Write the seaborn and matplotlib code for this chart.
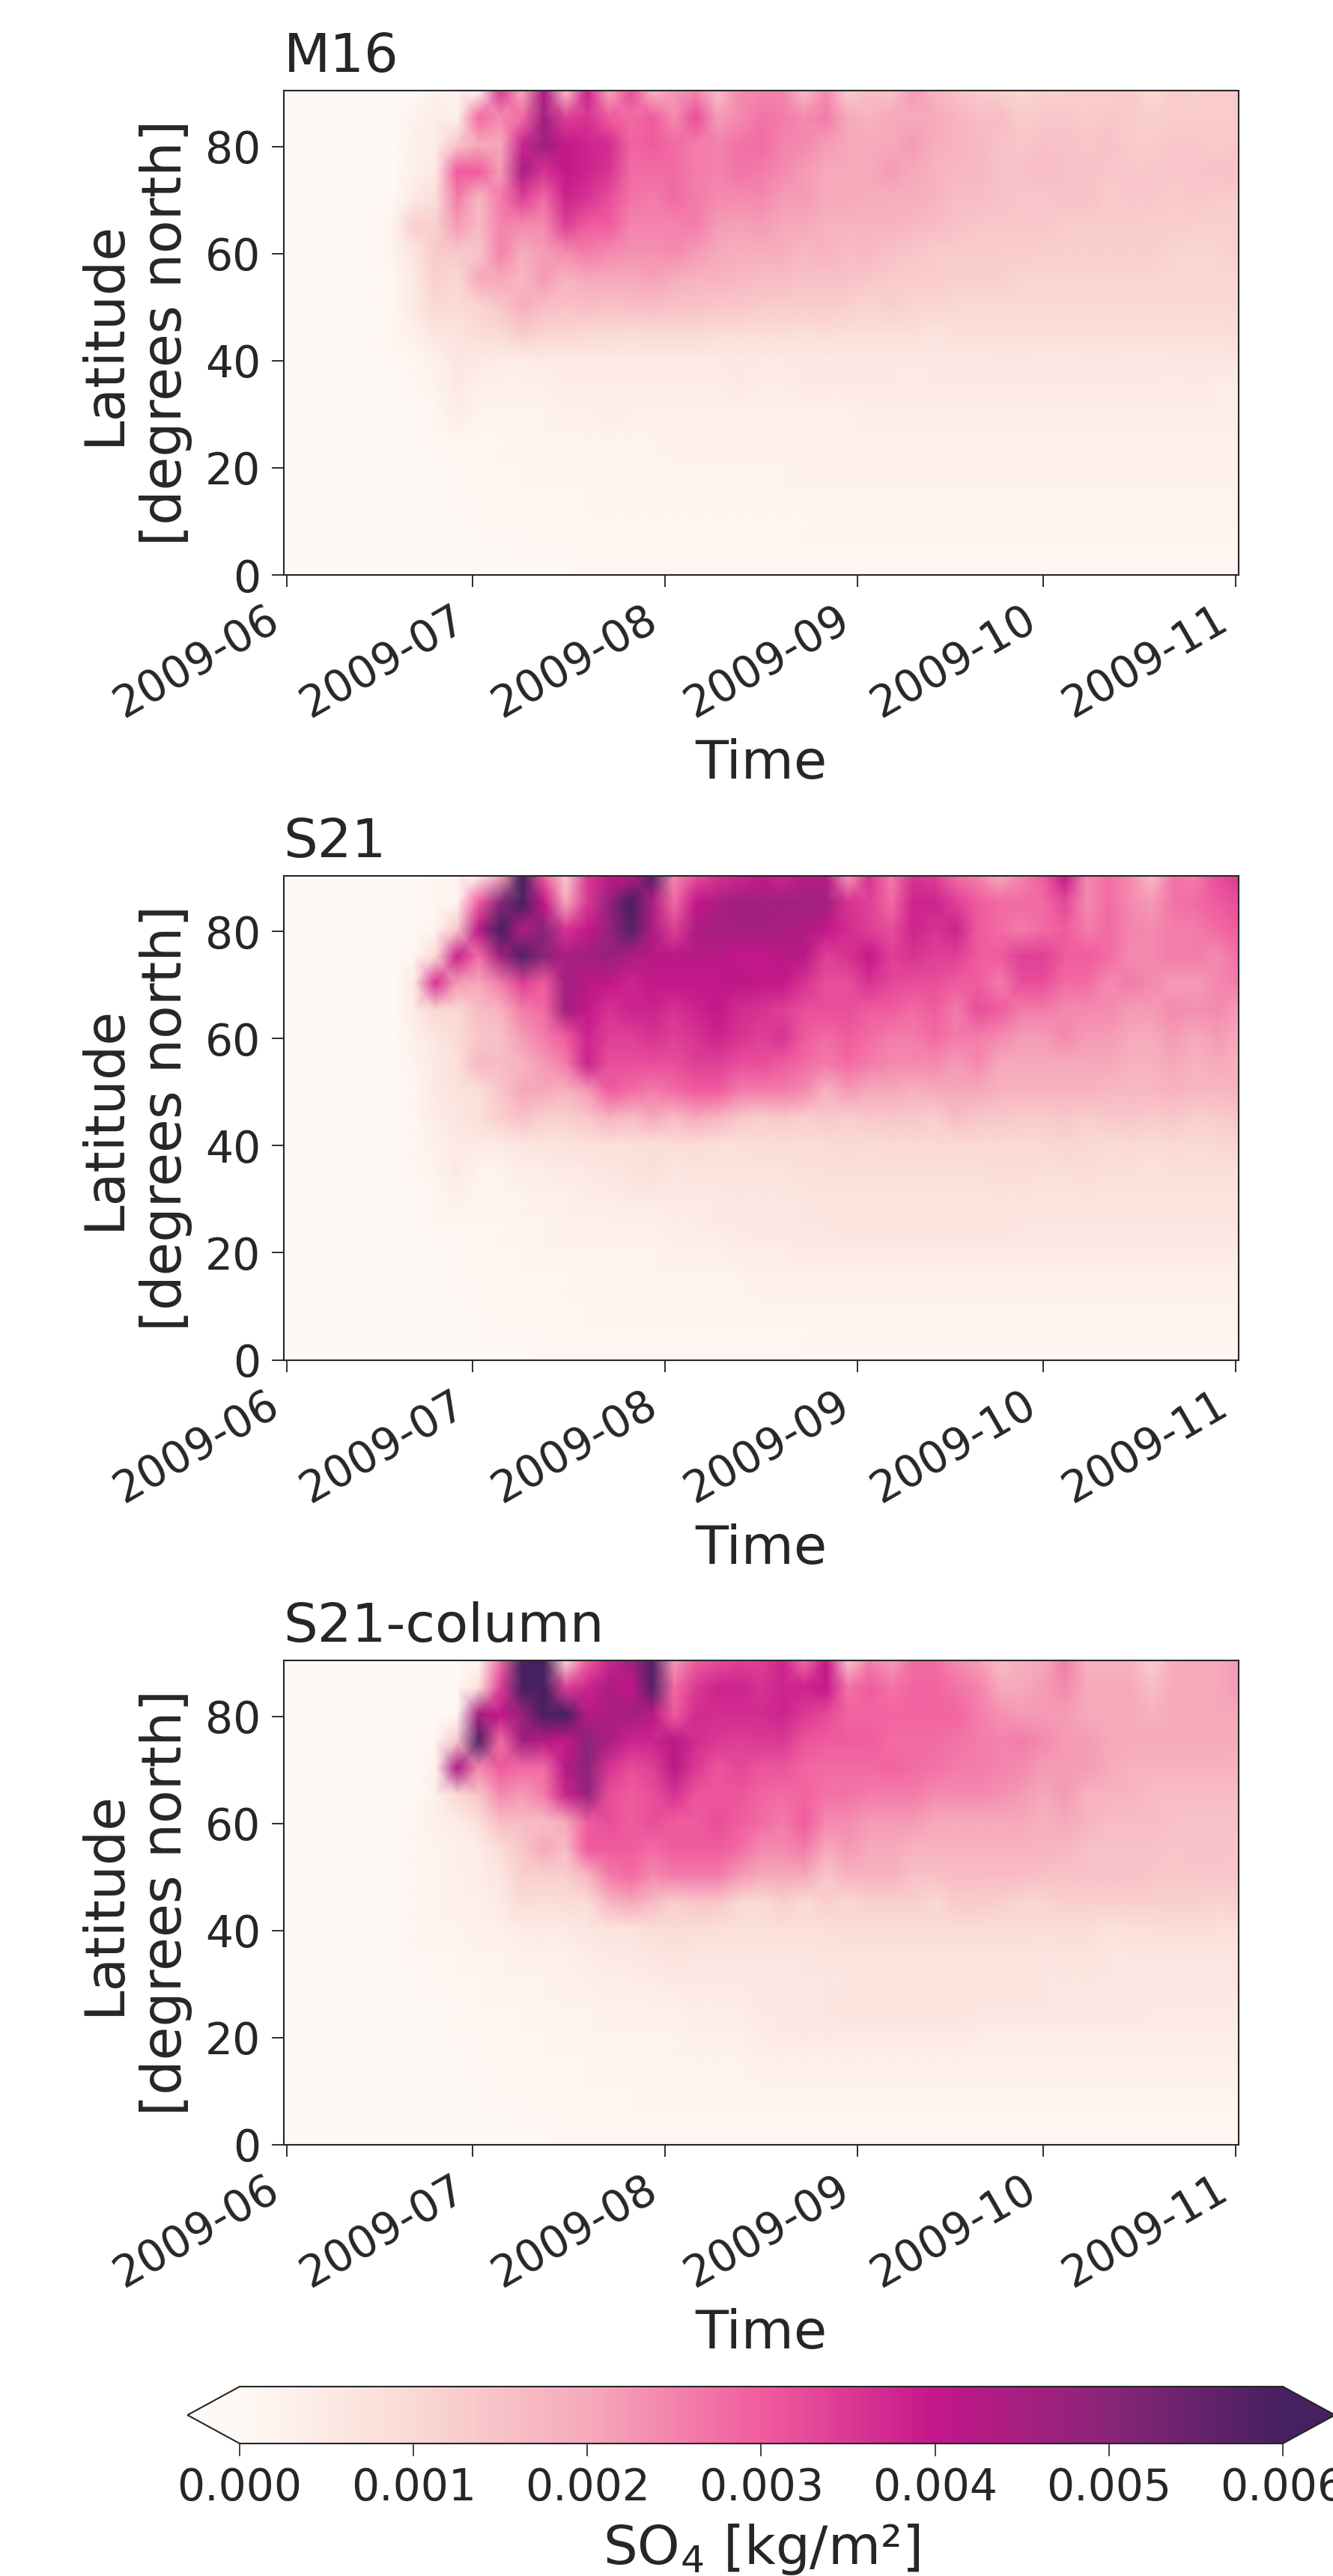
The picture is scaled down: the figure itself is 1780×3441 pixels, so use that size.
import numpy as np
import pandas as pd
import matplotlib
matplotlib.use('Agg')
import matplotlib.pyplot as plt
import seaborn as sns

sns.set_theme(style='ticks')

# sulfate burden, in units of 1e-4 kg/m2
# rows go from 90N down to 0 in 5 degree steps, columns every 3.5 days
lat_nodes = list(range(90, -1, -5))
time_nodes = pd.date_range('2009-05-31 12:00', periods=45, freq='84h')

m16_values = [
    [0,0,0,0,0, 0,0,3,2,3, 35,20,44,15,38, 20,32,18,22,25, 15,24,25,25,16, 24,12,16,15,22, 18,15,13,12,10, 12,12,13,12,14, 10,13,12,13,13],
    [0,0,0,0,0, 0,2,4,3,28, 24,28,46,34,36, 30,28,30,24,32, 22,24,27,26,24, 26,20,18,20,20, 20,18,16,16,13, 14,14,13,14,13, 12,13,13,13,13],
    [0,0,0,0,0, 0,3,4,14,20, 20,38,47,40,38, 37,29,30,28,26, 25,27,28,25,24, 22,20,20,20,22, 19,18,17,15,14, 15,15,14,15,13, 13,14,14,13,14],
    [0,0,0,0,0, 0,3,5,30,30, 22,44,36,40,38, 36,28,28,28,26, 25,27,26,24,22, 20,20,20,22,20, 18,17,17,15,15, 16,15,15,14,14, 14,14,14,15,15],
    [0,0,0,0,0, 0,5,8,26,17, 26,34,28,38,36, 32,27,26,28,26, 24,24,24,22,22, 20,20,19,19,19, 18,16,16,15,14, 14,15,15,13,14, 14,13,14,13,13],
    [0,0,0,0,0, 2,12,12,22,16, 25,24,24,34,30, 30,25,25,25,26, 22,21,22,20,20, 18,18,18,18,17, 16,15,14,14,14, 14,13,13,13,13, 12,13,12,12,12],
    [0,0,0,0,0, 2,6,13,14,14, 25,19,22,24,26, 24,23,23,24,22, 20,19,19,19,17, 18,16,17,15,14, 13,13,13,13,13, 12,12,12,12,12, 12,11,11,11,12],
    [0,0,0,0,0, 1,5,12,10,20, 20,17,22,18,20, 20,20,21,19,18, 18,17,16,16,15, 15,15,14,13,13, 13,12,12,12,11, 11,11,11,11,11, 11,11,11,11,11],
    [0,0,0,0,0, 1,5,10,9,11, 14,19,16,15,16, 15,16,16,15,15, 14,14,13,13,13, 13,12,11,12,11, 11,10,10,10,10, 10,10,10,10,10, 10,10,10,10,10],
    [0,0,0,0,0, 1,3,6,7,9, 10,13,11,11,10, 10,9,10,10,10, 9,9,9,9,8, 9,8,8,8,8, 7,8,8,8,8, 8,8,8,8,8, 8,8,8,8,9],
    [0,0,0,0,0, 1,1,3,6,5, 4,4,5,5,5, 5,5,5,5,5, 5,5,5,5,5, 5,5,5,5,5, 5,5,5,6,6, 5,5,6,6,5, 5,6,6,6,6],
    [0,0,0,0,0, 0,1,2,5,3, 3,3,3,4,4, 4,4,4,4,4, 4,5,4,4,5, 5,5,5,5,4, 5,5,5,5,5, 5,5,5,5,5, 5,4,5,4,4],
    [0,0,0,0,0, 0,0,1,4,2, 2,2,2,3,3, 4,3,3,3,3, 3,3,3,3,3, 3,3,4,4,4, 4,4,4,4,4, 4,4,4,4,4, 4,4,4,4,4],
    [0,0,0,0,0, 0,0,1,1,1, 1,2,2,2,2, 2,2,2,3,3, 3,3,3,3,3, 3,3,3,3,3, 3,3,3,3,3, 3,3,3,3,3, 3,3,3,3,3],
    [0,0,0,0,0, 0,0,0,1,1, 1,1,2,2,2, 2,2,2,2,2, 2,2,2,2,3, 3,3,3,3,3, 3,3,3,3,3, 3,3,3,3,3, 3,3,3,3,3],
    [0,0,0,0,0, 0,0,0,1,1, 1,1,1,1,1, 2,2,2,2,2, 2,2,2,2,2, 2,2,2,2,2, 2,2,2,2,2, 2,2,2,2,2, 2,2,2,2,2],
    [0,0,0,0,0, 0,0,0,0,1, 1,1,1,1,1, 1,1,1,1,1, 1,1,1,1,1, 2,2,2,2,2, 2,2,2,2,2, 2,2,2,2,2, 2,2,2,2,2],
    [0,0,0,0,0, 0,0,0,0,0, 0,1,1,1,1, 1,1,1,1,1, 1,1,1,1,1, 1,1,1,1,1, 1,1,1,1,1, 1,1,1,1,1, 1,1,1,1,1],
    [0,0,0,0,0, 0,0,0,0,0, 0,0,0,0,1, 1,1,1,1,1, 1,1,1,1,1, 1,1,1,1,1, 1,1,1,1,1, 1,1,1,1,1, 1,1,1,1,1],
]

s21_values = [
    [0,0,0,0,0, 0,0,1,1,3, 20,60,30,12,35, 40,42,58,24,32, 36,38,40,38,42, 42,22,36,26,36, 34,28,25,20,25, 30,40,24,28,24, 16,27,26,32,35],
    [0,0,0,0,0, 0,0,1,2,30, 50,60,40,20,35, 48,60,44,28,40, 44,46,46,46,46, 46,36,34,28,38, 38,34,30,28,28, 28,33,24,28,24, 22,27,28,30,32],
    [0,0,0,0,0, 0,0,2,14,42, 60,44,50,36,40, 48,58,44,34,44, 45,45,46,44,44, 40,37,34,32,38, 36,38,30,28,26, 28,30,26,28,25, 24,26,26,28,30],
    [0,0,0,0,0, 0,1,10,38,28, 46,58,50,44,46, 48,44,42,42,42, 42,40,40,42,42, 34,36,40,34,36, 34,34,30,30,34, 34,30,30,28,24, 24,26,26,24,28],
    [0,0,0,0,0, 0,5,36,22,20, 26,34,30,46,42, 40,38,40,40,40, 40,42,40,40,36, 32,32,36,33,32, 32,30,30,26,32, 32,28,28,24,26, 24,22,22,24,26],
    [0,0,0,0,0, 0,4,10,10,16, 18,26,28,46,40, 36,38,38,36,38, 40,37,36,34,32, 32,32,30,30,28, 30,26,32,30,26, 26,24,24,24,22, 22,24,23,24,22],
    [0,0,0,0,0, 0,3,6,9,14, 15,22,26,30,38, 34,34,36,34,36, 38,36,34,36,30, 28,30,28,26,26, 28,26,26,24,22, 22,24,22,22,20, 20,22,20,22,20],
    [0,0,0,0,0, 0,2,5,8,17, 16,18,22,26,38, 32,32,32,32,34, 34,32,32,30,28, 26,28,26,24,24, 24,22,24,20,20, 20,20,20,20,18, 18,20,18,20,18],
    [0,0,0,0,0, 0,1,5,7,8, 14,20,20,18,22, 30,28,26,28,30, 30,26,26,26,24, 18,22,20,20,18, 20,20,20,18,18, 18,18,18,17,17, 17,18,17,17,18],
    [0,0,0,0,0, 0,1,4,6,8, 12,15,12,12,14, 18,16,20,16,20, 18,14,12,14,12, 14,12,14,14,14, 12,16,14,14,13, 13,14,12,14,14, 13,14,12,13,14],
    [0,0,0,0,0, 0,1,3,5,5, 5,6,7,7,8, 8,8,8,9,9, 8,8,9,9,9, 9,10,9,10,10, 10,10,10,10,10, 10,11,10,9,10, 9,10,9,10,11],
    [0,0,0,0,0, 0,1,2,5,2, 2,4,4,5,5, 6,7,8,6,7, 7,7,7,7,8, 8,8,8,8,8, 8,8,8,9,9, 8,8,9,8,8, 7,8,8,8,8],
    [0,0,0,0,0, 0,0,1,3,1, 2,2,3,3,4, 4,5,5,5,5, 5,6,6,6,6, 7,7,7,7,7, 7,7,7,7,7, 7,7,7,7,7, 7,7,7,7,7],
    [0,0,0,0,0, 0,0,1,1,1, 1,2,2,3,3, 3,3,3,4,4, 5,5,6,6,6, 6,7,7,7,7, 7,7,7,7,6, 6,6,6,6,6, 6,6,6,6,6],
    [0,0,0,0,0, 0,0,0,1,1, 1,1,2,2,2, 2,2,2,3,3, 3,4,4,4,5, 5,5,5,5,5, 5,5,5,5,5, 5,5,5,5,5, 5,5,5,5,5],
    [0,0,0,0,0, 0,0,0,1,1, 1,1,1,1,2, 2,2,2,2,2, 2,2,3,3,3, 3,3,3,3,3, 3,3,3,3,3, 3,3,3,3,3, 3,3,3,3,3],
    [0,0,0,0,0, 0,0,0,0,1, 1,1,1,1,1, 2,2,2,2,2, 2,2,2,2,2, 2,2,2,2,2, 2,2,2,2,2, 2,2,2,2,2, 2,2,2,2,2],
    [0,0,0,0,0, 0,0,0,0,0, 1,1,1,1,1, 1,1,1,1,1, 1,1,1,1,1, 2,2,2,2,2, 2,2,2,2,2, 2,2,2,2,2, 2,2,2,2,2],
    [0,0,0,0,0, 0,0,0,0,0, 0,0,1,1,1, 1,1,1,1,1, 1,1,1,1,1, 1,1,1,1,1, 1,1,1,1,1, 1,1,1,1,1, 1,1,1,1,1],
]

column_values = [
    [0,0,0,0,0, 0,0,0,0,1, 28,60,60,10,30, 38,46,58,22,30, 32,34,34,38,28, 40,14,26,22,28, 28,24,22,16,19, 20,26,18,18,18, 12,19,20,20,22],
    [0,0,0,0,0, 0,0,0,0,8, 34,60,60,34,38, 44,40,58,28,35, 38,38,36,38,38, 40,27,30,27,29, 29,27,25,20,20, 22,24,20,20,20, 16,20,20,20,22],
    [0,0,0,0,0, 0,0,0,1,46, 40,48,60,60,42, 44,46,42,30,37, 37,37,37,38,35, 33,29,29,29,29, 29,29,26,23,22, 22,22,20,20,20, 18,20,20,20,20],
    [0,0,0,0,0, 0,0,1,14,58, 28,46,42,40,50, 44,38,38,42,37, 35,34,35,35,31, 30,30,30,28,28, 28,27,26,25,26, 24,22,22,20,20, 20,20,20,20,19],
    [0,0,0,0,0, 0,0,3,44,24, 30,28,28,42,50, 36,32,34,42,35, 31,33,31,31,29, 28,28,28,29,28, 27,26,26,25,24, 22,22,22,20,18, 18,18,18,18,18],
    [0,0,0,0,0, 0,0,3,10,14, 24,22,26,38,48, 32,30,32,36,31, 31,31,29,28,29, 27,27,26,26,26, 24,24,24,23,22, 20,22,18,18,18, 16,16,16,16,16],
    [0,0,0,0,0, 0,1,3,4,8, 16,16,16,20,30, 32,30,32,30,30, 32,30,28,26,30, 24,24,22,22,22, 20,20,20,20,20, 18,20,18,16,16, 16,15,15,15,15],
    [0,0,0,0,0, 0,1,2,3,4, 9,14,20,16,30, 30,30,28,30,30, 30,28,24,24,26, 20,22,20,20,18, 18,18,18,18,18, 18,17,15,15,15, 15,14,15,15,14],
    [0,0,0,0,0, 0,1,2,3,4, 6,12,12,12,17, 26,28,24,26,26, 26,22,20,20,20, 14,18,18,18,15, 15,16,16,16,16, 15,15,15,15,15, 14,14,14,14,14],
    [0,0,0,0,0, 0,1,2,3,3, 5,9,8,9,9, 17,20,16,12,14, 14,10,9,12,9, 12,10,12,12,12, 10,13,13,12,11, 11,12,12,12,12, 12,12,12,11,12],
    [0,0,0,0,0, 0,1,2,2,3, 3,4,5,5,6, 7,7,9,9,9, 8,8,8,8,8, 8,9,9,9,9, 9,9,9,9,9, 9,9,9,7,8, 8,9,9,8,8],
    [0,0,0,0,0, 0,1,1,1,2, 2,3,3,3,4, 5,5,6,7,6, 6,6,6,6,6, 7,7,7,7,7, 7,7,7,7,7, 6,7,7,6,6, 6,6,6,6,6],
    [0,0,0,0,0, 0,0,1,1,1, 2,2,2,3,3, 4,4,4,5,5, 5,5,5,6,6, 6,6,7,7,7, 7,7,7,7,7, 6,6,6,6,6, 6,6,6,6,6],
    [0,0,0,0,0, 0,0,0,1,1, 1,1,2,2,2, 3,3,3,3,4, 4,4,5,5,6, 6,7,7,7,7, 7,7,6,6,6, 6,6,6,6,6, 5,5,5,5,5],
    [0,0,0,0,0, 0,0,0,1,1, 1,1,1,2,2, 2,2,2,2,3, 3,3,4,5,5, 5,5,5,5,5, 5,5,4,4,4, 4,4,4,4,4, 4,4,4,4,4],
    [0,0,0,0,0, 0,0,0,0,1, 1,1,1,1,1, 2,2,2,2,2, 2,2,3,3,3, 3,3,3,3,3, 3,3,3,3,3, 3,3,3,3,3, 3,3,3,3,3],
    [0,0,0,0,0, 0,0,0,0,0, 1,1,1,1,1, 1,1,2,2,2, 2,2,2,2,2, 2,2,2,2,2, 2,2,2,2,2, 2,2,2,2,2, 2,2,2,2,2],
    [0,0,0,0,0, 0,0,0,0,0, 0,1,1,1,1, 1,1,1,1,1, 1,1,1,1,1, 1,1,1,1,1, 1,1,1,1,1, 1,1,1,1,1, 1,1,1,1,1],
    [0,0,0,0,0, 0,0,0,0,0, 0,0,0,1,1, 1,1,1,1,1, 1,1,1,1,1, 1,1,1,1,1, 1,1,1,1,1, 1,1,1,1,1, 1,1,1,1,1],
]

panel_titles = ['M16', 'S21', 'S21-column']
panel_values = [m16_values, s21_values, column_values]
month_ticks = ['2009-06-01', '2009-07-01', '2009-08-01', '2009-09-01', '2009-10-01', '2009-11-01']
lat_ticks = [0, 20, 40, 60, 80]
cbar_ticks = [0.000, 0.001, 0.002, 0.003, 0.004, 0.005, 0.006]
cmap_colors = ['#fff9f5', '#fad9d3', '#f6a9bb', '#f15c9e', '#c4178a', '#8a2578', '#47205f']

W, H = 1780, 3441
INK = '#262626'
LAT_TOP = 90.45  # axis runs slightly past the pole
cmap = sns.blend_palette(cmap_colors, as_cmap=True)

fig = plt.figure(figsize=(W / 300, H / 300), dpi=300, facecolor='white')
panel_tops = [121, 1169.5, 2218]
left, right, panel_h = 378.5, 1654, 647

# the triangles take up part of this box, so it runs past the bar on both ends
bar_left, bar_len = 320, 1393
cbar_ax = fig.add_axes([(bar_left - 0.05 * bar_len) / W, 1 - 3264 / H, 1.1 * bar_len / W, 76 / H])

for i, (title, values) in enumerate(zip(panel_titles, panel_values)):
    top = panel_tops[i]
    ax = fig.add_axes([left / W, 1 - (top + panel_h) / H, (right - left) / W, panel_h / H])
    df = pd.DataFrame(np.array(values) * 1e-4, index=lat_nodes, columns=time_nodes)
    # gouraud so the coarse grid reads as a smooth field
    sns.heatmap(df, ax=ax, cmap=cmap, vmin=0, vmax=0.006, shading='gouraud',
                xticklabels=False, yticklabels=False,
                cbar=(i == 2), cbar_ax=cbar_ax if i == 2 else None,
                cbar_kws={'orientation': 'horizontal', 'extend': 'both', 'extendfrac': 0.05})

    # nodes sit on the axes edges
    ax.set_xlim(0, len(time_nodes) - 1)
    ax.set_ylim(len(lat_nodes) - 1, 0)
    for s in ax.spines.values():
        s.set_visible(True)
        s.set_linewidth(0.5)
        s.set_color(INK)

    x_pos = [(pd.Timestamp(d) - time_nodes[0]) / pd.Timedelta('84h') for d in month_ticks]
    ax.set_xticks(x_pos)
    ax.set_xticklabels([d[:7] for d in month_ticks], rotation=30, ha='right', fontsize=14, color=INK)
    ax.set_yticks([(LAT_TOP - v) / LAT_TOP * (len(lat_nodes) - 1) for v in lat_ticks])
    ax.set_yticklabels(lat_ticks, rotation=0, fontsize=14, color=INK)
    ax.tick_params(axis='both', length=3.8, width=0.45, color=INK, left=True, bottom=True)

    ax.set_xlabel('Time', fontsize=17.3, color=INK)
    ax.set_ylabel('Latitude\n[degrees north]', fontsize=17.5, color=INK)
    ax.set_title(title, loc='left', fontsize=17.3, color=INK)

cb = ax.collections[0].colorbar
cb.outline.set_linewidth(0.5)
cb.outline.set_edgecolor(INK)
cb.set_ticks(cbar_ticks)
cb.set_ticklabels(['%.3f' % t for t in cbar_ticks])
cb.ax.tick_params(length=4, width=0.4, labelsize=14, color=INK, labelcolor=INK)
cb.set_label('SO$_4$ [kg/m²]', fontsize=17.3, color=INK)

fig.savefig('out.png', dpi=300)
